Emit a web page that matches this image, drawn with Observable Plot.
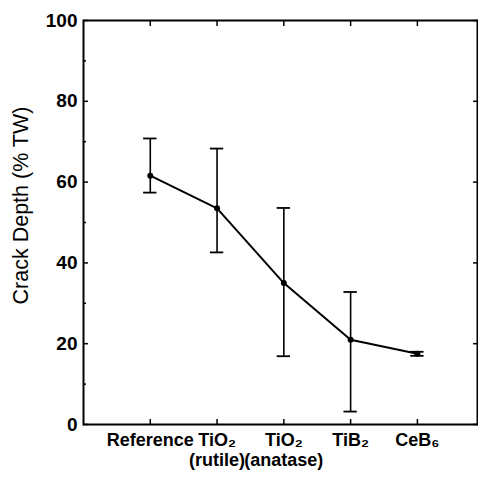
<!DOCTYPE html>
<html>
<head>
<meta charset="utf-8">
<script src="https://cdn.jsdelivr.net/npm/d3@7"></script>
<script src="https://cdn.jsdelivr.net/npm/@observablehq/plot@0.6"></script>
<style>
  html, body { margin: 0; padding: 0; background: #fff; }
</style>
</head>
<body>
<div id="chart"></div>
<script>
const categories = ["Reference", "TiO₂\n(rutile)", "TiO₂\n(anatase)", "TiB₂", "CeB₆"];
const meanDepth = [61.6, 53.5, 35.0, 21.0, 17.5];
const upperDepth = [70.8, 68.3, 53.6, 32.8, 18.0];
const lowerDepth = [57.4, 42.6, 16.9, 3.2, 17.0];
const yMajorTicks = [0, 20, 40, 60, 80, 100];
const yMinorTicks = [10, 30, 50, 70, 90];

const data = categories.map((c, i) => ({
  i, label: c, mean: meanDepth[i], hi: upperDepth[i], lo: lowerDepth[i]
}));
const capHalf = 0.1;

const chart = Plot.plot({
  width: 478,
  height: 479,
  marginLeft: 83,
  marginRight: 1,
  marginTop: 20,
  marginBottom: 55,
  style: { fontFamily: "Liberation Sans, Arial, sans-serif", background: "#fff", color: "#000" },
  x: { domain: [-1, 4.9], axis: null },
  y: { domain: [0, 100], axis: null },
  marks: [
    Plot.axisY({ anchor: "left", ticks: yMajorTicks, tickSize: -5, tickFormat: d => d, fontSize: 19, fontWeight: "bold", tickPadding: 11, label: null, strokeWidth: 1.5 }),
    Plot.axisY({ anchor: "left", ticks: yMinorTicks, tickSize: -3, tickFormat: () => "", label: null, strokeWidth: 1.5 }),
    Plot.axisY({ anchor: "right", ticks: yMajorTicks, tickSize: -5, tickFormat: () => "", label: null, strokeWidth: 1.5 }),
    Plot.axisX({ anchor: "bottom", ticks: d3.range(categories.length), tickSize: -5, tickFormat: () => "", label: null, strokeWidth: 1.5 }),
    Plot.axisX({ anchor: "top", ticks: d3.range(categories.length), tickSize: -5, tickFormat: () => "", label: null, strokeWidth: 1.5 }),
    Plot.frame({ stroke: "#000", strokeWidth: 2 }),
    Plot.text(data, { x: "i", y: 0, text: "label", dy: 8, lineAnchor: "top", fontSize: 18, fontWeight: "bold", lineHeight: 1.08, fill: "#000" }),
    Plot.text(["Crack Depth (% TW)"], { frameAnchor: "left", textAnchor: "middle", rotate: -90, dx: -62, dy: -17, fontSize: 21.5, fill: "#000" }),
    Plot.ruleX(data, { x: "i", y1: "lo", y2: "hi", stroke: "#000", strokeWidth: 1.6 }),
    Plot.ruleY(data, { y: "hi", x1: d => d.i - capHalf, x2: d => d.i + capHalf, stroke: "#000", strokeWidth: 1.8 }),
    Plot.ruleY(data, { y: "lo", x1: d => d.i - capHalf, x2: d => d.i + capHalf, stroke: "#000", strokeWidth: 1.8 }),
    Plot.line(data, { x: "i", y: "mean", stroke: "#000", strokeWidth: 2 }),
    Plot.dot(data, { x: "i", y: "mean", r: 3, fill: "#000", stroke: "none" })
  ]
});
document.getElementById("chart").appendChild(chart);
</script>
</body>
</html>
